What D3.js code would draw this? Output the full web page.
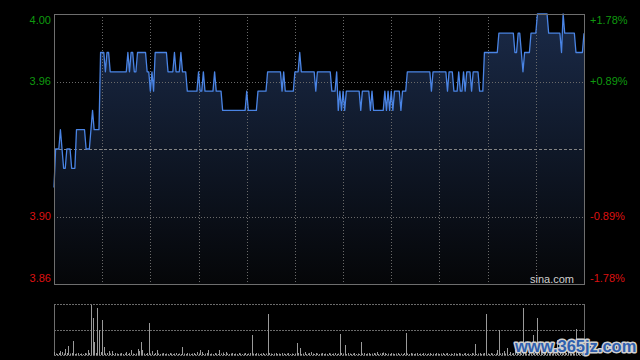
<!DOCTYPE html>
<html>
<head>
<meta charset="utf-8">
<script src="https://cdn.jsdelivr.net/npm/d3@7"></script>
<style>
body { margin: 0; background: #000; }
text { font-family: Arial, "Liberation Sans", sans-serif; }
</style>
</head>
<body>
<svg id="chart" width="640" height="360"></svg>
<script>
var prev_close = 3.93;
var pct_ticks = [1.78, 0.89, -0.89, -1.78];
var time_ticks = [30, 60, 90, 120, 150, 180, 210, 240, 270, 300];
var total_minutes = 330;

// one price per minute, 09:30 .. 16:00 (lunch removed)
var prices = [
  3.91, 3.93, 3.93, 3.93, 3.94, 3.93, 3.92, 3.92, 3.93, 3.93,
  3.93, 3.92, 3.92, 3.92, 3.94, 3.94, 3.94, 3.94, 3.94, 3.94,
  3.93, 3.93, 3.93, 3.94, 3.95, 3.94, 3.94, 3.94, 3.94, 3.98,
  3.98, 3.98, 3.97, 3.98, 3.98, 3.97, 3.97, 3.97, 3.97, 3.97,
  3.97, 3.97, 3.97, 3.97, 3.97, 3.97, 3.98, 3.97, 3.98, 3.98,
  3.97, 3.97, 3.98, 3.98, 3.98, 3.98, 3.98, 3.98, 3.97, 3.97,
  3.96, 3.97, 3.96, 3.98, 3.98, 3.98, 3.98, 3.98, 3.98, 3.98,
  3.98, 3.97, 3.97, 3.97, 3.97, 3.98, 3.97, 3.97, 3.97, 3.98,
  3.97, 3.97, 3.97, 3.96, 3.96, 3.96, 3.96, 3.96, 3.96, 3.96,
  3.97, 3.96, 3.96, 3.97, 3.96, 3.96, 3.96, 3.96, 3.96, 3.96,
  3.97, 3.96, 3.96, 3.96, 3.96, 3.95, 3.95, 3.95, 3.95, 3.95,
  3.95, 3.95, 3.95, 3.95, 3.95, 3.95, 3.95, 3.95, 3.95, 3.95,
  3.96, 3.95, 3.95, 3.95, 3.95, 3.95, 3.95, 3.96, 3.96, 3.96,
  3.96, 3.96, 3.96, 3.97, 3.97, 3.97, 3.97, 3.97, 3.97, 3.97,
  3.97, 3.97, 3.96, 3.97, 3.96, 3.96, 3.96, 3.96, 3.96, 3.96,
  3.97, 3.97, 3.97, 3.98, 3.97, 3.97, 3.97, 3.97, 3.97, 3.97,
  3.97, 3.97, 3.97, 3.96, 3.97, 3.97, 3.97, 3.97, 3.97, 3.97,
  3.97, 3.97, 3.97, 3.96, 3.96, 3.96, 3.97, 3.95, 3.96, 3.95,
  3.96, 3.95, 3.96, 3.96, 3.96, 3.96, 3.96, 3.96, 3.96, 3.96,
  3.96, 3.95, 3.96, 3.96, 3.96, 3.96, 3.96, 3.95, 3.96, 3.95,
  3.95, 3.95, 3.95, 3.95, 3.95, 3.95, 3.96, 3.95, 3.96, 3.95,
  3.96, 3.95, 3.96, 3.96, 3.96, 3.96, 3.95, 3.96, 3.96, 3.96,
  3.97, 3.97, 3.97, 3.97, 3.97, 3.97, 3.97, 3.97, 3.97, 3.97,
  3.97, 3.97, 3.97, 3.97, 3.97, 3.96, 3.97, 3.97, 3.97, 3.97,
  3.97, 3.97, 3.97, 3.97, 3.97, 3.96, 3.97, 3.97, 3.97, 3.96,
  3.96, 3.96, 3.97, 3.96, 3.96, 3.97, 3.96, 3.97, 3.97, 3.97,
  3.96, 3.97, 3.97, 3.97, 3.97, 3.96, 3.96, 3.96, 3.98, 3.98,
  3.98, 3.98, 3.98, 3.98, 3.98, 3.98, 3.98, 3.99, 3.99, 3.99,
  3.99, 3.99, 3.99, 3.99, 3.99, 3.99, 3.99, 3.98, 3.98, 3.99,
  3.99, 3.98, 3.97, 3.98, 3.98, 3.98, 3.98, 3.99, 3.99, 3.99,
  3.99, 4.00, 4.00, 4.00, 4.00, 4.00, 4.00, 4.00, 3.99, 3.99,
  3.99, 3.99, 3.99, 3.99, 3.99, 3.99, 3.98, 4.00, 3.99, 3.99,
  3.99, 3.99, 3.99, 3.99, 3.99, 3.98, 3.98, 3.98, 3.98, 3.98,
  3.99
];

// one volume per minute (no unit shown on the chart)
var volumes = [
  30, 15, 10, 20, 40, 30, 15, 60, 20, 90,
  15, 20, 140, 10, 15, 20, 10, 15, 10, 20,
  15, 50, 20, 500, 370, 130, 20, 470, 250, 30,
  350, 80, 15, 20, 40, 15, 40, 10, 20, 15,
  10, 15, 20, 10, 15, 30, 10, 20, 50, 15,
  10, 15, 60, 40, 130, 50, 15, 10, 20, 320,
  15, 40, 10, 20, 50, 15, 10, 15, 20, 10,
  15, 10, 20, 15, 10, 15, 20, 10, 15, 10,
  80, 15, 10, 20, 15, 10, 15, 20, 10, 30,
  15, 50, 30, 10, 15, 20, 50, 10, 15, 10,
  20, 15, 10, 50, 15, 25, 10, 30, 15, 10,
  15, 20, 10, 15, 10, 20, 15, 10, 15, 20,
  10, 15, 20, 200, 15, 10, 20, 15, 10, 15,
  20, 10, 15, 410, 20, 15, 10, 15, 20, 10,
  15, 10, 20, 15, 10, 15, 20, 10, 15, 10,
  15, 120, 20, 70, 10, 15, 30, 10, 15, 20,
  30, 15, 10, 20, 15, 10, 15, 20, 10, 15,
  10, 20, 15, 10, 15, 20, 10, 15, 210, 20,
  15, 100, 10, 20, 15, 10, 15, 20, 10, 15,
  10, 130, 15, 20, 10, 15, 20, 10, 15, 20,
  15, 30, 10, 15, 20, 25, 20, 10, 15, 10,
  20, 15, 10, 15, 20, 10, 15, 10, 20, 220,
  15, 10, 20, 15, 10, 15, 20, 10, 15, 10,
  20, 15, 10, 15, 20, 10, 15, 10, 20, 15,
  10, 15, 20, 10, 15, 20, 10, 15, 10, 20,
  15, 10, 20, 15, 10, 15, 20, 10, 15, 10,
  20, 15, 110, 10, 15, 20, 10, 15, 20, 410,
  15, 10, 20, 15, 10, 15, 50, 250, 15, 20,
  40, 15, 70, 10, 30, 15, 20, 50, 15, 10,
  20, 15, 470, 20, 15, 10, 20, 15, 200, 20,
  15, 370, 20, 60, 15, 120, 20, 15, 10, 80,
  15, 20, 10, 150, 15, 20, 10, 15, 60, 20,
  90, 15, 10, 20, 15, 260, 20, 15, 10, 20,
  30
];

var plot_left = 54, plot_right = 584, plot_top = 14, plot_bottom = 284;
var vol_top = 304, vol_bottom = 355;
var grid_color = '#6a6a6a';
var frame_color = '#6e6e6e';
var up_color = '#0f9a0f';
var down_color = '#dd1111';

var svg = d3.select('#chart');

var x = d3.scaleLinear().domain([0, total_minutes]).range([plot_left, plot_right]);
var y = d3.scaleLinear()
    .domain([prev_close * (1 - 0.0178), prev_close * (1 + 0.0178)])
    .range([plot_bottom, plot_top]);
var yv = d3.scaleLinear().domain([0, 510]).range([vol_bottom, vol_top]);

var px = function(v) { return Math.round(v) + 0.5; };

svg.append('rect')
    .attr('width', 640).attr('height', 360).attr('fill', '#000');

// gradient under the price line
var defs = svg.append('defs');
var grad = defs.append('linearGradient')
    .attr('id', 'area-grad')
    .attr('gradientUnits', 'userSpaceOnUse')
    .attr('x1', 0).attr('y1', plot_top).attr('x2', 0).attr('y2', plot_bottom);
grad.append('stop').attr('offset', 0).attr('stop-color', '#1a2a48');
grad.append('stop').attr('offset', 1).attr('stop-color', '#050608');

var area = d3.area()
    .x(function(d, i) { return x(i); })
    .y0(plot_bottom)
    .y1(function(d) { return y(d); });

var line = d3.line()
    .x(function(d, i) { return x(i); })
    .y(function(d) { return y(d); });

svg.append('path')
    .datum(prices)
    .attr('d', area)
    .attr('fill', 'url(#area-grad)');

// time grid
svg.append('g')
    .selectAll('line')
    .data(time_ticks)
    .enter()
    .append('line')
    .attr('x1', function(d) { return px(x(d)); })
    .attr('x2', function(d) { return px(x(d)); })
    .attr('y1', plot_top)
    .attr('y2', plot_bottom)
    .attr('stroke', grid_color)
    .attr('stroke-dasharray', '1,2');

// price grid at +-0.89%
svg.append('g')
    .selectAll('line')
    .data([0.89, -0.89])
    .enter()
    .append('line')
    .attr('x1', plot_left)
    .attr('x2', plot_right)
    .attr('y1', function(d) { return px(y(prev_close * (1 + d / 100))); })
    .attr('y2', function(d) { return px(y(prev_close * (1 + d / 100))); })
    .attr('stroke', grid_color)
    .attr('stroke-dasharray', '1,2');

// previous close
svg.append('line')
    .attr('x1', plot_left).attr('x2', plot_right)
    .attr('y1', px(y(prev_close))).attr('y2', px(y(prev_close)))
    .attr('stroke', '#858585')
    .attr('stroke-dasharray', '3,2');

svg.append('path')
    .datum(prices)
    .attr('d', line)
    .attr('fill', 'none')
    .attr('stroke', '#4a84e4')
    .attr('stroke-width', 1.3)
    .attr('stroke-linejoin', 'round');

svg.append('rect')
    .attr('x', plot_left + 0.5).attr('y', plot_top + 0.5)
    .attr('width', plot_right - plot_left).attr('height', plot_bottom - plot_top)
    .attr('fill', 'none')
    .attr('stroke', frame_color);

// axis labels
var label_y = function(p) {
    var v = y(prev_close * (1 + p / 100));
    if (p === 1.78) return v + 6;
    if (p === -1.78) return v - 6;
    return v;
};

svg.append('g')
    .selectAll('text')
    .data(pct_ticks)
    .enter()
    .append('text')
    .attr('x', 51)
    .attr('y', label_y)
    .attr('dy', '0.35em')
    .attr('text-anchor', 'end')
    .attr('font-size', 11)
    .attr('fill', function(d) { return d > 0 ? up_color : down_color; })
    .text(function(d) { return (prev_close * (1 + d / 100)).toFixed(2); });

svg.append('g')
    .selectAll('text')
    .data(pct_ticks)
    .enter()
    .append('text')
    .attr('x', 590)
    .attr('y', label_y)
    .attr('dy', '0.35em')
    .attr('font-size', 11)
    .attr('fill', function(d) { return d > 0 ? up_color : down_color; })
    .text(function(d) { return (d > 0 ? '+' : '') + d.toFixed(2) + '%'; });

svg.append('text')
    .attr('x', 574).attr('y', 279)
    .attr('dy', '0.35em')
    .attr('text-anchor', 'end')
    .attr('font-size', 11)
    .attr('fill', '#cfcfcf')
    .text('sina.com');

// volume panel
svg.append('g')
    .selectAll('line')
    .data([vol_top, (vol_top + vol_bottom) / 2, vol_bottom])
    .enter()
    .append('line')
    .attr('x1', plot_left).attr('x2', plot_right)
    .attr('y1', function(d) { return px(d); })
    .attr('y2', function(d) { return px(d); })
    .attr('stroke', grid_color)
    .attr('stroke-dasharray', '2,1');

svg.append('g')
    .selectAll('line')
    .data([plot_left, plot_right])
    .enter()
    .append('line')
    .attr('x1', function(d) { return d + 0.5; })
    .attr('x2', function(d) { return d + 0.5; })
    .attr('y1', vol_top).attr('y2', vol_bottom + 1)
    .attr('stroke', frame_color);

svg.append('g')
    .selectAll('line')
    .data(volumes)
    .enter()
    .append('line')
    .attr('x1', function(d, i) { return px(x(i)); })
    .attr('x2', function(d, i) { return px(x(i)); })
    .attr('y1', vol_bottom)
    .attr('y2', function(d) { return yv(d); })
    .attr('stroke', '#9a9a9a')
    .attr('stroke-width', 1);

// site watermark
svg.append('text')
    .attr('x', 515).attr('y', 352)
    .attr('font-family', '"Liberation Serif", "Times New Roman", serif')
    .attr('font-weight', 'bold')
    .attr('font-size', 16.5)
    .attr('fill', '#2f5fae')
    .attr('stroke', '#d0d0d0')
    .attr('stroke-width', 3)
    .attr('stroke-linejoin', 'round')
    .attr('paint-order', 'stroke')
    .text('www.365jz.com');
</script>
</body>
</html>
